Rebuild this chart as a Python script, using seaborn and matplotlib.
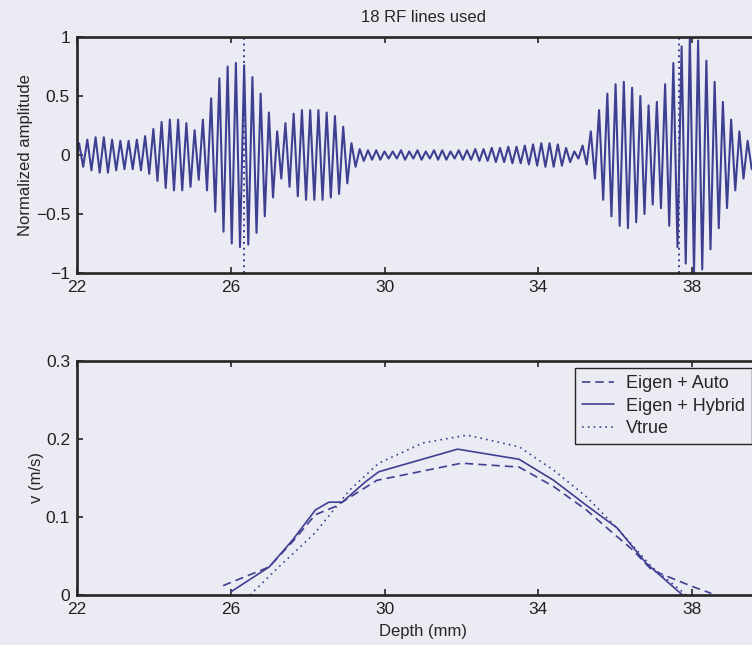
import numpy as np
import pandas as pd
import matplotlib
matplotlib.use('Agg')
import matplotlib.pyplot as plt
from matplotlib.ticker import FuncFormatter
import seaborn as sns

# --- data ---
# RF trace: peak amplitude of each carrier cycle, left to right from 22 mm
rf_start = 22.0
rf_period = 0.2147  # mm per cycle
rf_amp = [0.10, 0.13, 0.15, 0.15, 0.13, 0.12, 0.12, 0.13, 0.16, 0.22,
          0.28, 0.30, 0.30, 0.27, 0.21, 0.30, 0.48, 0.65, 0.75, 0.78,
          0.76, 0.66, 0.52, 0.36, 0.20, 0.27, 0.35, 0.38, 0.38, 0.38,
          0.36, 0.33, 0.24, 0.10, 0.05, 0.04, 0.04, 0.03, 0.03, 0.04,
          0.03, 0.04, 0.03, 0.04, 0.04, 0.03, 0.04, 0.04, 0.05, 0.05,
          0.06, 0.06, 0.07, 0.07, 0.08, 0.09, 0.10, 0.10, 0.09, 0.06,
          0.03, 0.08, 0.20, 0.38, 0.52, 0.60, 0.62, 0.57, 0.50, 0.42,
          0.45, 0.60, 0.78, 0.92, 1.00, 0.97, 0.80, 0.62, 0.45, 0.30,
          0.20, 0.12]
marker_depths = [26.35, 37.65]

auto_depth = [25.8, 26.6, 27.0, 27.6, 28.2, 28.7, 29.8, 32.0, 33.5, 34.4,
              35.25, 35.9, 36.45, 36.95, 38.0, 38.5]
auto_v = [0.012, 0.028, 0.036, 0.068, 0.103, 0.113, 0.147, 0.169, 0.164, 0.139,
          0.109, 0.081, 0.058, 0.032, 0.011, 0.002]

hybrid_depth = [26.0, 26.5, 27.0, 27.6, 28.2, 28.55, 28.9, 29.5, 29.85, 31.9,
                33.5, 34.4, 35.25, 36.05, 36.8, 37.75]
hybrid_v = [0.004, 0.02, 0.036, 0.07, 0.109, 0.119, 0.119, 0.145, 0.158, 0.187,
            0.174, 0.147, 0.115, 0.086, 0.041, 0.0]

vtrue_depth = [26.5, 27.25, 28.2, 29.1, 29.85, 31.0, 32.15, 33.5, 34.4, 35.25,
               36.1, 36.95, 37.7, 37.85]
vtrue_v = [0.0, 0.036, 0.08, 0.135, 0.169, 0.195, 0.205, 0.19, 0.16, 0.126,
           0.083, 0.036, 0.006, 0.0]

method_names = ['Eigen + Auto', 'Eigen + Hybrid', 'Vtrue']
x_ticks = [22, 26, 30, 34, 38]

BG = '#ebebf3'
LINE = '#3f3f92'
FRAME = '#252525'

sns.set_theme(style='ticks')
plt.rcParams['font.family'] = ['Liberation Sans', 'DejaVu Sans']
plt.rcParams['font.size'] = 12.5

# RF extrema: one peak and one trough per cycle
amp = np.array(rf_amp)
n = len(amp)
rf_depth = rf_start + rf_period * (np.arange(2 * n) / 2 + 0.25)
rf_val = np.ravel(np.column_stack([amp, -amp]))
rf_df = pd.DataFrame({'depth': np.r_[rf_start, rf_depth], 'amp': np.r_[0.0, rf_val]})

vel_df = pd.concat([
    pd.DataFrame({'depth': auto_depth, 'v': auto_v, 'method': method_names[0]}),
    pd.DataFrame({'depth': hybrid_depth, 'v': hybrid_v, 'method': method_names[1]}),
    pd.DataFrame({'depth': vtrue_depth, 'v': vtrue_v, 'method': method_names[2]}),
])

fig = plt.figure(figsize=(7.52, 6.45), dpi=100, facecolor=BG)
ax1 = fig.add_axes([77 / 752, 1 - 273 / 645, 692 / 752, 236 / 645])
ax2 = fig.add_axes([77 / 752, 1 - 595 / 645, 692 / 752, 234 / 645])

fmt = FuncFormatter(lambda v, p: ('%g' % v).replace('-', '\u2212'))

# top: RF line
sns.lineplot(data=rf_df, x='depth', y='amp', ax=ax1, color=LINE, lw=1.5,
             estimator=None, sort=False)
for d in marker_depths:
    ax1.axvline(d, color=LINE, lw=1.4, linestyle=(0, (1, 2.0)))
ax1.set_ylim(-1, 1)
ax1.set_yticks([-1, -0.5, 0, 0.5, 1])
ax1.set_title('18 RF lines used', fontsize=12, pad=11)
ax1.set_ylabel('Normalized amplitude')
ax1.yaxis.set_label_coords(-0.064, 0.5)

# bottom: velocity profiles
dash_map = {method_names[0]: (5, 3), method_names[1]: '', method_names[2]: (1, 2.5)}
sns.lineplot(data=vel_df, x='depth', y='v', style='method', dashes=dash_map,
             style_order=method_names, color=LINE, lw=1.2, ax=ax2,
             estimator=None, sort=False)
ax2.set_ylim(0, 0.3)
ax2.set_yticks([0, 0.1, 0.2, 0.3])
ax2.set_ylabel('v (m/s)')
ax2.yaxis.set_label_coords(-0.047, 0.5)
ax2.set_xlabel('Depth (mm)')
ax2.xaxis.set_label_coords(0.5, -0.125)

handles, labels = ax2.get_legend_handles_labels()
for h in handles:
    h.set_color(LINE)
    h.set_linewidth(1.2)
leg = ax2.legend(handles, labels, loc='upper left', bbox_to_anchor=(0.7197, 0.970),
                 frameon=True, fancybox=False, edgecolor=FRAME, facecolor=BG,
                 framealpha=1, fontsize=13, handlelength=1.75, handletextpad=0.65,
                 borderpad=0.4, labelspacing=0.3, borderaxespad=0)
leg.get_frame().set_linewidth(1.0)

for ax in (ax1, ax2):
    ax.set_facecolor(BG)
    ax.set_xlim(22, 40)
    ax.set_xticks(x_ticks)
    ax.yaxis.set_major_formatter(fmt)
    if ax is ax1:
        ax.set_xlabel('')
    ax.tick_params(direction='in', length=4, width=1.2, top=True, right=True,
                   colors=FRAME, labelcolor='#222222', labelsize=12.5, pad=5)
    for s in ax.spines.values():
        s.set_visible(True)
        s.set_linewidth(1.9)
        s.set_color(FRAME)

fig.savefig('out.png', dpi=100, facecolor=BG)
